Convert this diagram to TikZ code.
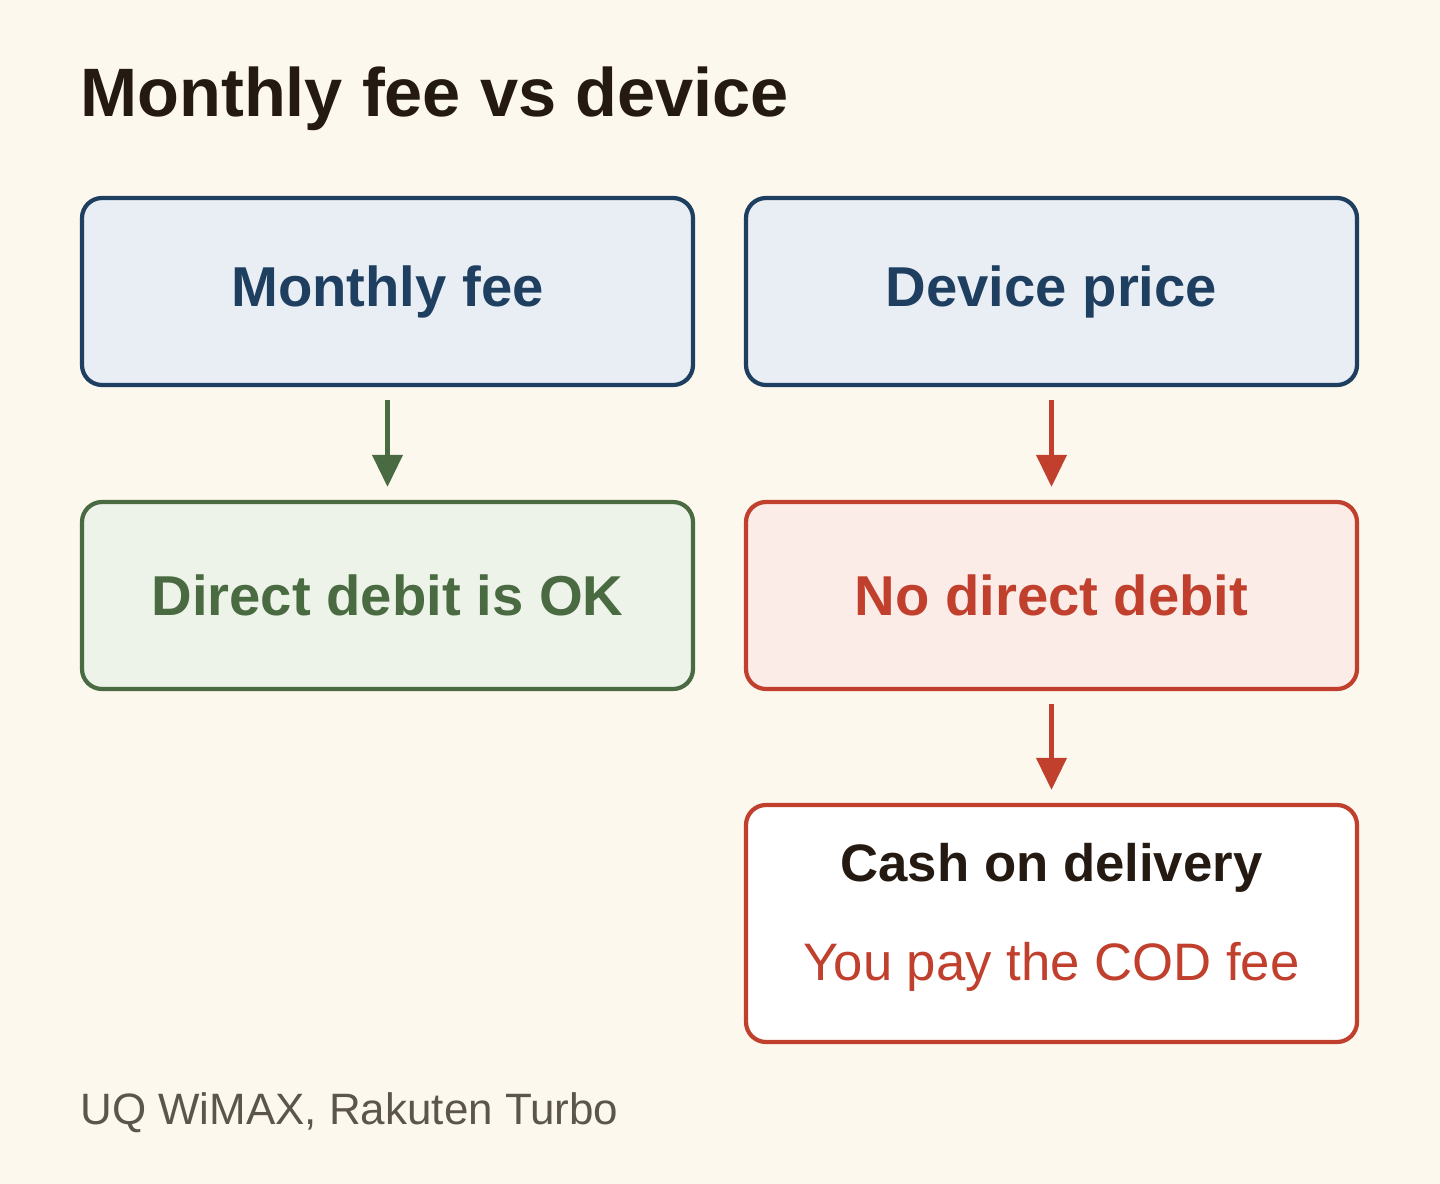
\documentclass[tikz,border=0pt]{standalone}
\usepackage{fontspec}
\setmainfont{Liberation Sans}
\usetikzlibrary{arrows.meta}
\definecolor{bgcream}{HTML}{FCF8EE}
\definecolor{inkdark}{HTML}{241A12}
\definecolor{navy}{HTML}{1F3F60}
\definecolor{navyfill}{HTML}{E9EEF5}
\definecolor{leaf}{HTML}{4A6B41}
\definecolor{leaffill}{HTML}{EEF3EA}
\definecolor{brick}{HTML}{C0402D}
\definecolor{brickfill}{HTML}{FBECE8}
\definecolor{footgray}{HTML}{5C554B}
\tikzset{
  feebox/.style={draw, line width=2.4pt, rounded corners=0.4cm,
    minimum width=12.22cm, minimum height=3.74cm, inner sep=0pt,
    font=\fontsize{32}{37}\selectfont\bfseries},
  flowarrow/.style={line width=2.3pt, shorten <=0.26cm, shorten >=0.26cm,
    -{Triangle[width=0.6cm,length=0.64cm]}}
}
\begin{document}
\begin{tikzpicture}
            \fill[bgcream] (0,0) rectangle (28.8,-23.68);
            \useasboundingbox (0,0) rectangle (28.8,-23.68);

            \node[anchor=base west, inner sep=0pt, text=inkdark,
              font=\fontsize{39}{45}\selectfont\bfseries] (title) at (1.6,-2.34) {Monthly fee vs device};

            \node[feebox, color=navy, fill=navyfill, text=navy] (mfee) at (7.75,-5.83) {Monthly fee};
            \node[feebox, color=navy, fill=navyfill, text=navy] (dprice) at (21.03,-5.83) {Device price};
            \node[feebox, color=leaf, fill=leaffill, text=leaf] (ddok) at (7.75,-11.91) {Direct debit is OK};
            \node[feebox, color=brick, fill=brickfill, text=brick] (nodd) at (21.03,-11.91) {No direct debit};
            \node[feebox, color=brick, fill=white, minimum height=4.74cm] (cod) at (21.03,-18.47) {};

            \node[anchor=base, inner sep=0pt, text=inkdark,
              font=\fontsize{30}{35}\selectfont\bfseries] (codtitle) at (21.03,-17.62) {Cash on delivery};
            \node[anchor=base, inner sep=0pt, text=brick,
              font=\fontsize{30}{35}\selectfont] (codfee) at (21.03,-19.6) {You pay the COD fee};

            \draw[flowarrow, leaf] (mfee) -- (ddok);
            \draw[flowarrow, brick] (dprice) -- (nodd);
            \draw[flowarrow, brick] (nodd) -- (cod);

            \node[anchor=base west, inner sep=0pt, text=footgray,
              font=\fontsize{25}{29}\selectfont] (footer) at (1.6,-22.48) {UQ WiMAX, Rakuten Turbo};
        \end{tikzpicture}
\end{document}
